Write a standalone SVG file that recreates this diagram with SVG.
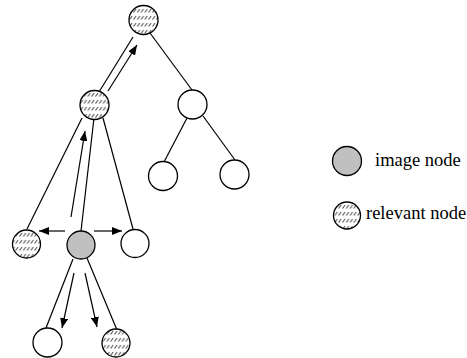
<svg xmlns="http://www.w3.org/2000/svg" width="467" height="358" viewBox="0 0 467 358">
  <style>
    .edge { stroke: #000; stroke-width: 1.2; fill: none; }
    .arrow { stroke: #000; stroke-width: 1.2; fill: none; marker-end: url(#head); }
    .plain { fill: #fff; stroke: #000; stroke-width: 1.3; }
    .image { fill: #c0c0c0; stroke: #000; stroke-width: 1.3; }
    .relevant { fill: url(#hatch); stroke: #000; stroke-width: 1.3; }
  </style>
  <defs>
    <marker id="head" markerUnits="userSpaceOnUse" markerWidth="10" markerHeight="8" refX="10" refY="4" orient="auto">
      <path d="M0,0 L10,4 L0,8 Z" fill="#000"/>
    </marker>
    <!-- rows of short slashes -->
    <pattern id="hatch" patternUnits="userSpaceOnUse" width="3.8" height="7">
      <rect width="3.8" height="7" fill="#fff"/>
      <line x1="0.5" y1="5.5" x2="3" y2="2" stroke="#444" stroke-width="1"/>
    </pattern>
  </defs>

  <!-- tree edges and search arrows -->
  <g id="connectors">
    <line class="edge" x1="133" y1="37" x2="99" y2="92"/>
    <line class="arrow" x1="108" y1="91" x2="137" y2="45"/>
    <line class="edge" x1="150" y1="33" x2="192" y2="90"/>
    <line class="edge" x1="187" y1="118" x2="164" y2="162"/>
    <line class="edge" x1="203" y1="116" x2="235" y2="160"/>
    <line class="edge" x1="82" y1="118" x2="27" y2="229"/>
    <line class="edge" x1="94" y1="118" x2="81" y2="231"/>
    <line class="edge" x1="103" y1="118" x2="133" y2="229"/>
    <line class="arrow" x1="71" y1="217" x2="85" y2="131"/>
    <line class="arrow" x1="65" y1="231" x2="39" y2="231"/>
    <line class="arrow" x1="94" y1="231" x2="122" y2="231"/>
    <line class="edge" x1="73" y1="259" x2="46" y2="328"/>
    <line class="edge" x1="87" y1="258" x2="117" y2="330"/>
    <line class="arrow" x1="74" y1="273" x2="62" y2="328"/>
    <line class="arrow" x1="85" y1="273" x2="97" y2="327"/>
  </g>

  <!-- tree nodes -->
  <g id="root"><circle class="relevant" cx="143.5" cy="20" r="14.5"/></g>
  <g id="n-left"><circle class="relevant" cx="94.5" cy="105" r="14.5"/></g>
  <g id="n-right"><circle class="plain" cx="192.5" cy="104.5" r="14.5"/></g>
  <g id="n-right-left"><circle class="plain" cx="163" cy="176" r="14.5"/></g>
  <g id="n-right-right"><circle class="plain" cx="234.5" cy="174.5" r="14.5"/></g>
  <g id="sibling-left"><circle class="relevant" cx="26.5" cy="244" r="14"/></g>
  <g id="image-node"><circle class="image" cx="81" cy="245" r="14"/></g>
  <g id="sibling-right"><circle class="plain" cx="135" cy="243.5" r="14"/></g>
  <g id="child-left"><circle class="plain" cx="47.5" cy="342.5" r="14.5"/></g>
  <g id="child-right"><circle class="relevant" cx="116" cy="343" r="14"/></g>

  <!-- legend -->
  <g id="legend-image">
    <circle class="image" cx="347" cy="161" r="14.5"/>
    <text x="375" y="166" font-family="'Liberation Serif', 'Times New Roman', serif" font-size="18.5" fill="#000">image node</text>
  </g>
  <g id="legend-relevant">
    <circle class="relevant" cx="347" cy="215.5" r="13.5"/>
    <text x="366" y="219" font-family="'Liberation Serif', 'Times New Roman', serif" font-size="18.5" fill="#000">relevant node</text>
  </g>
</svg>
